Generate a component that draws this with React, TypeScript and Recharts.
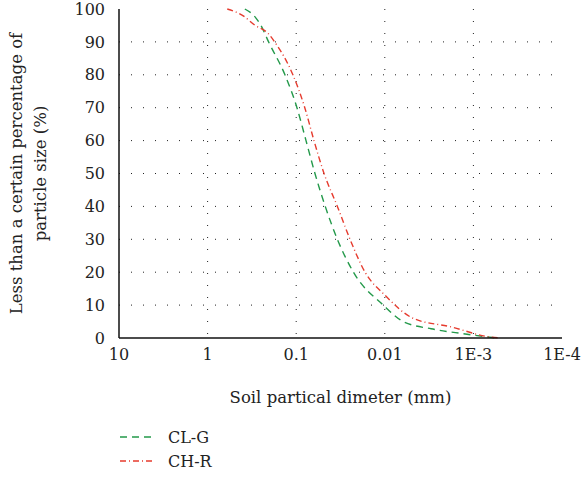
import React from "react";
import {
  LineChart, Line, XAxis, YAxis, CartesianGrid, Legend, Label,
} from "recharts";

// particle diameter (mm) vs. percent passing
const clgSize = [0.38, 0.3, 0.25, 0.205, 0.134, 0.098, 0.0775, 0.0614, 0.047, 0.0343, 0.0226, 0.0104, 0.0062, 0.003, 0.0013, 0.00055];
const clgPass = [100, 98, 95, 90, 80, 70, 60, 50, 40, 30, 20, 10, 5, 2.8, 1.3, 0];
const chrSize = [0.6, 0.4, 0.29, 0.208, 0.175, 0.109, 0.08, 0.063, 0.0485, 0.0343, 0.0247, 0.0167, 0.00995, 0.0048, 0.0018, 0.00065, 0.0005];
const chrPass = [100, 98, 95, 92.6, 90, 80, 70, 60, 50, 40, 30, 20, 13, 6, 3.4, 0.3, 0];

const xTicks = [10, 1, 0.1, 0.01, 0.001, 0.0001];
const xTickLabels = ["10", "1", "0.1", "0.01", "1E-3", "1E-4"];
const yTicks = [0, 10, 20, 30, 40, 50, 60, 70, 80, 90, 100];

const clg = clgSize.map((d, i) => ({ d, p: clgPass[i] }));
const chr = chrSize.map((d, i) => ({ d, p: chrPass[i] }));

const FONT = "DejaVu Serif";
const FS = 16;
const GREEN = "#23994a";
const RED = "#e63b2e";

const YTitle = (props: any) => {
  const vb = props.viewBox || {};
  const cy = vb.y + vb.height / 2;
  return (
    <g fontFamily={FONT} fontSize={16.5} fill="#222">
      <text x={0} y={0} textAnchor="middle" transform={`translate(22, ${cy}) rotate(-90)`}>
        Less than a certain percentage of
      </text>
      <text x={0} y={0} textAnchor="middle" transform={`translate(46, ${cy}) rotate(-90)`}>
        particle size (%)
      </text>
    </g>
  );
};

const LegendBox = () => (
  <div style={{ fontFamily: FONT, fontSize: FS, color: "#222" }}>
    {[
      { name: "CL-G", color: GREEN, dash: "7 5" },
      { name: "CH-R", color: RED, dash: "6 3 1 3" },
    ].map((it) => (
      <div key={it.name} style={{ display: "flex", alignItems: "center", height: 24 }}>
        <svg width={36} height={10} style={{ marginRight: 12 }}>
          <line x1={0} y1={5} x2={34} y2={5} stroke={it.color} strokeWidth={1.5} strokeDasharray={it.dash} />
        </svg>
        <span>{it.name}</span>
      </div>
    ))}
  </div>
);

export default function App() {
  return (
    <div style={{ position: "absolute", left: 0, top: 0, background: "#fff" }}>
      <LineChart width={584} height={482} margin={{ top: 9, right: 22, left: 0, bottom: 36 }}>
        <CartesianGrid
          stroke="#222"
          strokeDasharray="1 11"
          horizontalValues={[10, 20, 30, 40, 50, 60, 70, 80, 90]}
          verticalValues={[1, 0.1, 0.01, 0.001]}
        />
        <XAxis
          dataKey="d"
          type="number"
          scale="log"
          domain={[0.0001, 10]}
          reversed
          ticks={xTicks}
          tickFormatter={(v: number) => xTickLabels[xTicks.indexOf(v)] ?? String(v)}
          allowDataOverflow
          height={60}
          tickLine={false}
          axisLine={{ stroke: "#111", strokeWidth: 1.5 }}
          tick={{ fontFamily: FONT, fontSize: FS, fill: "#222" }}
          tickMargin={5}
        >
          <Label value="Soil partical dimeter (mm)" position="insideBottom" offset={-5}
            fontFamily={FONT} fontSize={16.5} fill="#222" />
        </XAxis>
        <XAxis xAxisId="top" orientation="top" height={0} tick={false} tickLine={false}
          axisLine={{ stroke: "#555", strokeWidth: 2.5 }} />
        <YAxis
          type="number"
          domain={[0, 100]}
          ticks={yTicks}
          width={119}
          tickLine={false}
          axisLine={{ stroke: "#111", strokeWidth: 1.5 }}
          tick={{ fontFamily: FONT, fontSize: FS, fill: "#222" }}
          tickMargin={8}
          label={<YTitle />}
        />
        <YAxis yAxisId="right" orientation="right" width={0} tick={false} tickLine={false}
          axisLine={{ stroke: "#111", strokeWidth: 1.5 }} />
        <Legend
          verticalAlign="bottom"
          align="left"
          content={<LegendBox />}
          wrapperStyle={{ left: 120, top: 425, width: 200 }}
        />
        <Line data={clg} dataKey="p" name="CL-G" type="monotone" stroke={GREEN} strokeWidth={1.4}
          strokeDasharray="7 5" dot={false} isAnimationActive={false} />
        <Line data={chr} dataKey="p" name="CH-R" type="monotone" stroke={RED} strokeWidth={1.4}
          strokeDasharray="6 3 1 3" dot={false} isAnimationActive={false} />
      </LineChart>
    </div>
  );
}
